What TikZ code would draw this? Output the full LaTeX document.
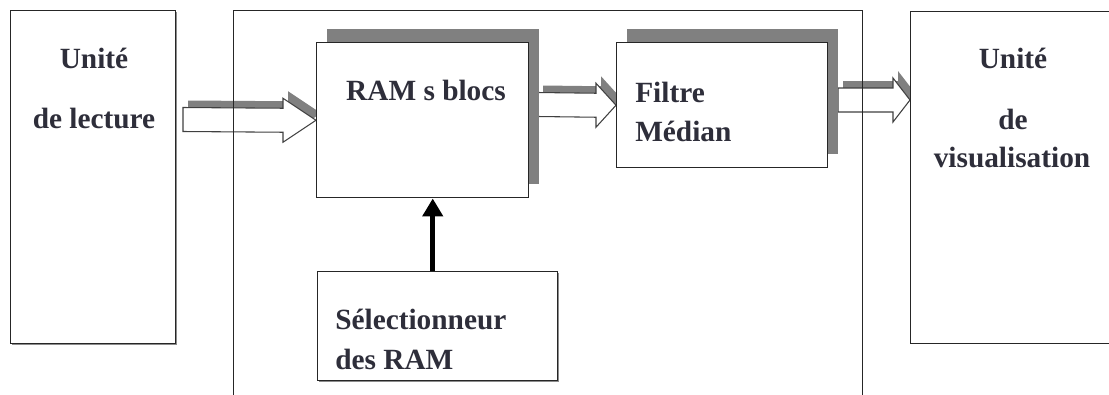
\documentclass[tikz,border=0pt]{standalone}
\usepackage{fontspec}
\setmainfont{Liberation Serif}
\usetikzlibrary{arrows.meta, calc, backgrounds, shadows}
\definecolor{ombregris}{HTML}{808080}
\definecolor{encre}{HTML}{2E2E3A}
\newcommand{\px}{0.75pt}

\tikzset{
  boite/.style={draw=black!85, line width=1.1pt, fill=white, inner sep=0pt, anchor=north west},
  ombree/.style={drop shadow={shadow xshift=7.5pt, shadow yshift=10.5pt, fill=ombregris, opacity=1}},
  legere/.style={drop shadow={shadow xshift=1.2pt, shadow yshift=-1.2pt, fill=black!45, opacity=1}},
  texte/.style={font=\fontsize{22}{26}\selectfont\bfseries, text=encre, inner sep=0pt, anchor=base},
  bloc/.style={fill=white, draw=black!75, line width=0.8pt},
  blocombre/.style={fill=ombregris, draw=none},
  commande/.style={-{Triangle[length=13.5pt, width=15pt]}, line width=3.4pt, black},
}

% fleche creuse : style, queue, pointe, longueur de tete, decalage
\newcommand{\contourFleche}[5]{%
  \draw[#1] ($(#2)+(#5)+(0,-12)$) -- ($(#3)+(#5)+(-#4,-12)$)
    -- ($(#3)+(#5)+(-#4,-22)$) -- ($(#3)+(#5)$)
    -- ($(#3)+(#5)+(-#4,22)$) -- ($(#3)+(#5)+(-#4,12)$)
    -- ($(#2)+(#5)+(0,12)$) -- cycle;}
\newcommand{\flecheBloc}[3]{%
  \contourFleche{blocombre}{#1}{#2}{#3}{5,-7}
  \contourFleche{bloc}{#1}{#2}{#3}{0,0}}

\begin{document}
\begin{tikzpicture}[x=\px, y=-\px]
  \useasboundingbox (0,0) rectangle (1109,394);
  \clip (0,0) rectangle (1109,394);

  % Unite de lecture
  \node[boite, legere, minimum width=165*\px, minimum height=333*\px] (lecture) at (10,10) {};
  \node[texte] (tUnite1) at (94,68) {Unité};
  \node[texte] (tLecture) at (94,128) {de lecture};

  % RAM
  \node[boite, ombree, minimum width=212*\px, minimum height=155*\px] (ram) at (316,42) {};
  \node[texte] (tRam) at (426,100) {RAM s blocs};

  % Filtre
  \node[boite, ombree, minimum width=211*\px, minimum height=125*\px] (filtre) at (616,42) {};
  \node[texte, anchor=base west] (tFiltre) at (635,102) {Filtre};
  \node[texte, anchor=base west] (tMedian) at (635,141) {Médian};

  % Selectionneur
  \node[boite, legere, minimum width=240*\px, minimum height=109*\px] (select) at (317,271) {};
  \node[texte, anchor=base west] (tSelect) at (335,329) {Sélectionneur};
  \node[texte, anchor=base west] (tDesRam) at (335,369) {des RAM};

  % Unite de visualisation
  \node[boite, minimum width=206*\px, minimum height=332*\px] (visu) at (910,11) {};
  \node[texte] (tUnite2) at (1013,68) {Unité};
  \node[texte] (tDe) at (1013,129) {de};
  \node[texte] (tVisu) at (1012,167) {visualisation};

  % Fleches creuses
  \coordinate (q1) at (183,119.5);
  \coordinate (q2) at (538,104.5);
  \coordinate (q3) at (838,100);
  \coordinate (p3) at (910,100);
  \begin{scope}[on background layer]
    \flecheBloc{q1}{ram.west}{33}
    \flecheBloc{q2}{filtre.west}{20}
    \flecheBloc{q3}{p3}{17}
  \end{scope}

  % Cadre
  \node[boite, fill=none, minimum width=629*\px, minimum height=420*\px] (cadre) at (233,10) {};

  % Commande
  \draw[commande] ($(select.north)+(-5,0)$) -- ($(ram.south)+(10,0)$);
\end{tikzpicture}
\end{document}
